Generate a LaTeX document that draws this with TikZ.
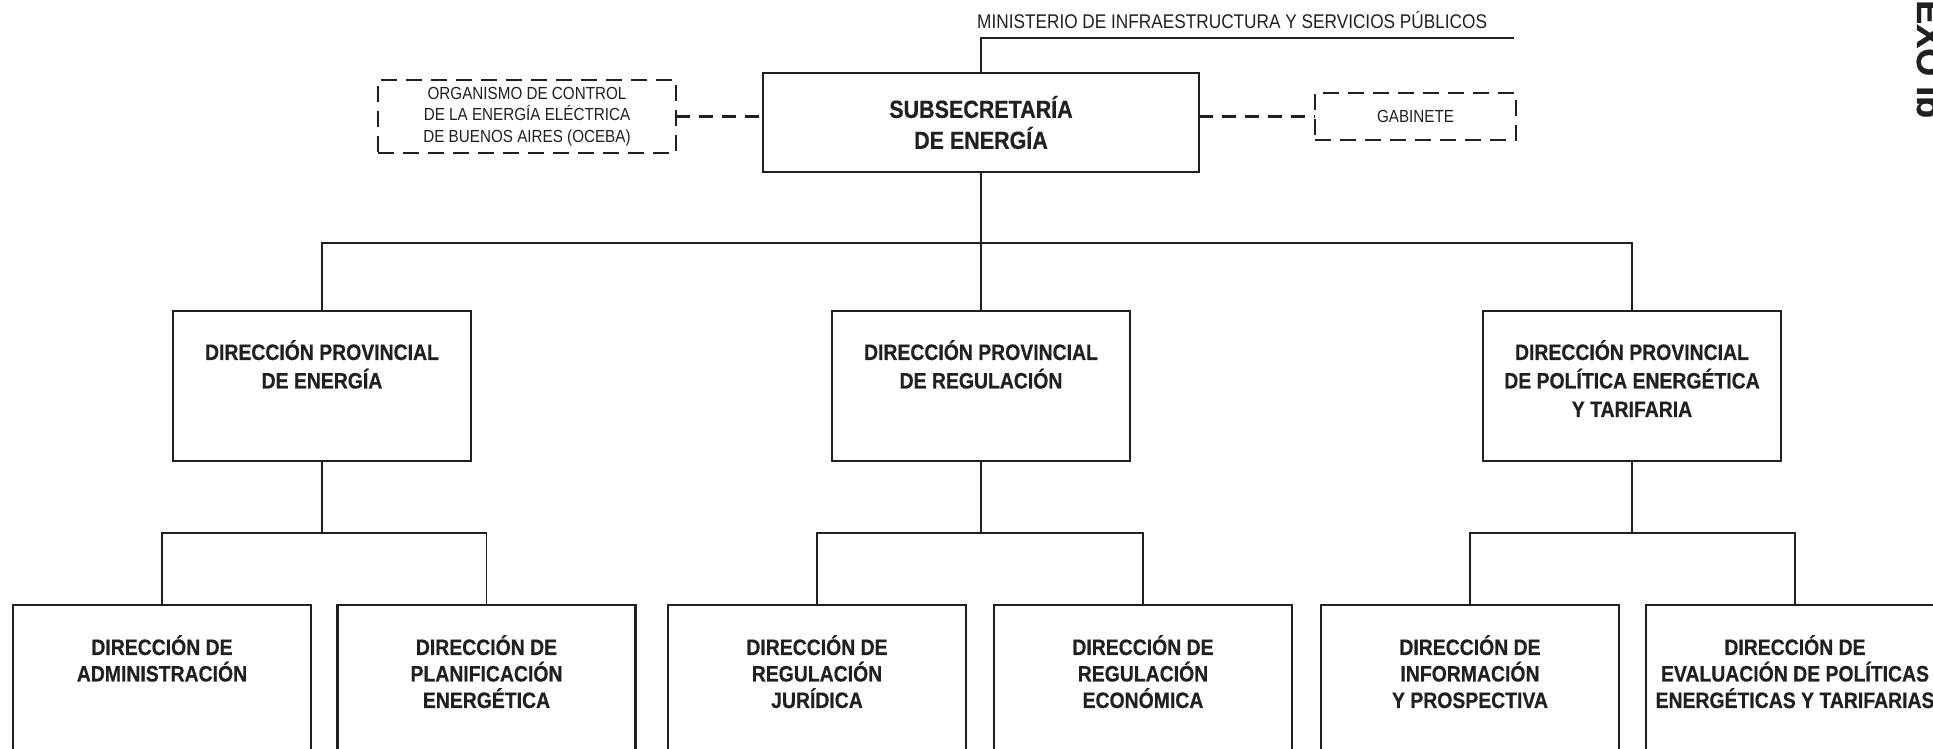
\documentclass[tikz,border=0pt]{standalone}
\usepackage{fontspec}
\setmainfont{Liberation Sans}[FakeStretch=0.87, BoldFeatures={FakeBold=0.6}]
\newfontfamily\plainsans{Liberation Sans}[BoldFeatures={FakeBold=0.6}]
\definecolor{ink}{HTML}{231F20}
\begin{document}
\begin{tikzpicture}[x=1pt,y=-1pt,
  box/.style={draw=ink, line width=2.9pt, minimum width=298pt, minimum height=150pt, inner sep=0pt, outer sep=0pt},
  lowbox/.style={box, minimum height=200pt},
  dbox/.style={draw=ink, line width=2.9pt, dash pattern=on 16pt off 9pt, inner sep=0pt, outer sep=0pt, align=center, text=ink},
  lbltwo/.style={font=\bfseries\fontsize{22.3}{28.5}\selectfont, text=ink, align=center, anchor=north, inner sep=0pt},
  lblthree/.style={font=\bfseries\fontsize{22.3}{26.5}\selectfont, text=ink, align=center, anchor=north, inner sep=0pt},
  conn/.style={draw=ink, line width=1.3pt},
  dconn/.style={draw=ink, line width=2.9pt, dash pattern=on 14pt off 9pt}]
\useasboundingbox (0,0) rectangle (1933,748);
\clip (0,0) rectangle (1933,748);

% top level
\node[box, minimum width=436pt, minimum height=99pt, align=center, text=ink,
      font=\bfseries\fontsize{24.7}{31}\selectfont] (sub) at (981,122.5) {SUBSECRETARÍA\\DE ENERGÍA};
\node[dbox, minimum width=298pt, minimum height=73pt,
      font=\fontsize{17.5}{21.5}\selectfont] (oceba) at (527,116.5)
      {ORGANISMO DE CONTROL\\DE LA ENERGÍA ELÉCTRICA\\DE BUENOS AIRES (OCEBA)};
\node[dbox, minimum width=201pt, minimum height=47pt,
      font=\fontsize{17.5}{21.5}\selectfont] (gab) at (1415.5,116.5) {GABINETE};
\node[anchor=base west, inner sep=0pt, text=ink, font=\fontsize{19.8}{20}\selectfont] (min) at (977,28)
      {MINISTERIO DE INFRAESTRUCTURA Y SERVICIOS PÚBLICOS};
\coordinate (minR) at (1514,38);
\draw[conn] (sub.north) -- (sub.north |- minR) -- (minR);
\draw[dconn] (oceba.east) -- (oceba.east -| sub.west);
\draw[dconn] (sub.east |- gab.west) -- (gab.west);

% annex label
\node[rotate=-90, anchor=base west, inner sep=0pt, text=ink, font=\plainsans\bfseries\fontsize{36}{36}\selectfont] (anexo) at (1917,-52) {ANEXO Ib};

% level 2
\coordinate (bus1) at (0,243);
\node[box] (dpe) at (322,386) {};
\node[box] (dpr) at (981,386) {};
\node[box] (dpp) at (1632,386) {};
\node[lbltwo] (dpet) at (322,340) {DIRECCIÓN PROVINCIAL\\DE ENERGÍA};
\node[lbltwo] (dprt) at (981,340) {DIRECCIÓN PROVINCIAL\\DE REGULACIÓN};
\node[lbltwo] (dppt) at (1632,340) {DIRECCIÓN PROVINCIAL\\DE POLÍTICA ENERGÉTICA\\Y TARIFARIA};
\draw[conn] (sub.south) -- (sub.south |- bus1);
\draw[conn] (dpe.north) -- (dpe.north |- bus1) -- (dpp.north |- bus1) -- (dpp.north);
\draw[conn] (dpr.north) -- (dpr.north |- bus1);

% level 3
\coordinate (bus2) at (0,533);
\node[lowbox] (d1) at (162,705) {};
\node[lowbox] (d2) at (486.5,705) {};
\node[lowbox] (d3) at (817,705) {};
\node[lowbox] (d4) at (1143,705) {};
\node[lowbox] (d5) at (1470,705) {};
\node[lowbox] (d6) at (1795,705) {};
\node[lblthree] (d1t) at (162,635) {DIRECCIÓN DE\\ADMINISTRACIÓN};
\node[lblthree] (d2t) at (486.5,635) {DIRECCIÓN DE\\PLANIFICACIÓN\\ENERGÉTICA};
\node[lblthree] (d3t) at (817,635) {DIRECCIÓN DE\\REGULACIÓN\\JURÍDICA};
\node[lblthree] (d4t) at (1143,635) {DIRECCIÓN DE\\REGULACIÓN\\ECONÓMICA};
\node[lblthree] (d5t) at (1470,635) {DIRECCIÓN DE\\INFORMACIÓN\\Y PROSPECTIVA};
\node[lblthree] (d6t) at (1795,635) {DIRECCIÓN DE\\EVALUACIÓN DE POLÍTICAS\\ENERGÉTICAS Y TARIFARIAS};

\draw[conn] (dpe.south) -- (dpe.south |- bus2);
\draw[conn] (d1.north) -- (d1.north |- bus2) -- (d2.north |- bus2) -- (d2.north);
\draw[conn] (dpr.south) -- (dpr.south |- bus2);
\draw[conn] (d3.north) -- (d3.north |- bus2) -- (d4.north |- bus2) -- (d4.north);
\draw[conn] (dpp.south) -- (dpp.south |- bus2);
\draw[conn] (d5.north) -- (d5.north |- bus2) -- (d6.north |- bus2) -- (d6.north);
\end{tikzpicture}
\end{document}
